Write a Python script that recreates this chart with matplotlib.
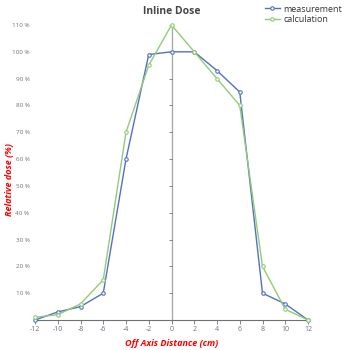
import matplotlib.pyplot as plt

plt.rcParams['font.family'] = ['Open Sans', 'DejaVu Sans']

# data
distance = [-12, -10, -8, -6, -4, -2, 0, 2, 4, 6, 8, 10, 12]
measurement = [0, 3, 5, 10, 60, 99, 100, 100, 93, 85, 10, 6, 0]
calculation = [1, 2, 6, 15, 70, 95, 110, 100, 90, 80, 20, 4, 0]
y_ticks = [10, 20, 30, 40, 50, 60, 70, 80, 90, 100, 110]
x_ticks = [-12, -10, -8, -6, -4, -2, 0, 2, 4, 6, 8, 10, 12]

blue = '#5470c6'
green = '#91cc75'
axis_gray = '#6e7079'

fig = plt.figure(figsize=(3.5, 3.5), dpi=100)
ax = fig.add_axes([35 / 350, 30 / 350, 273 / 350, 295 / 350])

ax.plot(distance, measurement, color=blue, lw=1, marker='o', ms=2.5,
        mfc='white', mec=blue, mew=0.8, clip_on=False, label='measurement', zorder=3)
ax.plot(distance, calculation, color=green, lw=1, marker='o', ms=2.5,
        mfc='white', mec=green, mew=0.8, clip_on=False, label='calculation', zorder=3)

ax.set_xlim(-12, 12)
ax.set_ylim(0, 110)

for s in ['top', 'right', 'left']:
    ax.spines[s].set_visible(False)
ax.spines['bottom'].set_color(axis_gray)
ax.spines['bottom'].set_linewidth(0.8)

# vertical axis line through x = 0 with small ticks
ax.axvline(0, color='#aaaaaa', lw=1, zorder=1)
ax.hlines(y_ticks, -0.2, 0, color=axis_gray, lw=0.6, zorder=1)

ax.set_xticks(x_ticks)
ax.set_xticklabels([str(v) for v in x_ticks])
ax.set_yticks(y_ticks)
ax.set_yticklabels([f'{v} %' for v in y_ticks])
ax.tick_params(axis='x', colors=axis_gray, labelsize=5, length=3, width=0.6, pad=1.5)
ax.tick_params(axis='y', colors=axis_gray, labelsize=4.5, length=0, pad=4)

ax.set_xlabel('Off Axis Distance (cm)', color='red', fontsize=6.5,
              fontweight='bold', fontstyle='italic', labelpad=4)
fig.text(10 / 350, 1 - 180 / 350, 'Relative dose (%)', color='red', fontsize=6.5,
         fontweight='bold', fontstyle='italic', rotation=90, ha='center', va='center')

fig.text(172 / 350, 1 - 11 / 350, 'Inline Dose', ha='center', va='center',
         fontsize=7.5, fontweight='bold', color='#464646')

fig.legend(loc='upper right', bbox_to_anchor=(1.0, 1.01), frameon=False,
           fontsize=6.5, handlelength=1.6, handletextpad=0.4, labelspacing=0.2,
           labelcolor='#333333')

fig.savefig('out.png', dpi=100)
